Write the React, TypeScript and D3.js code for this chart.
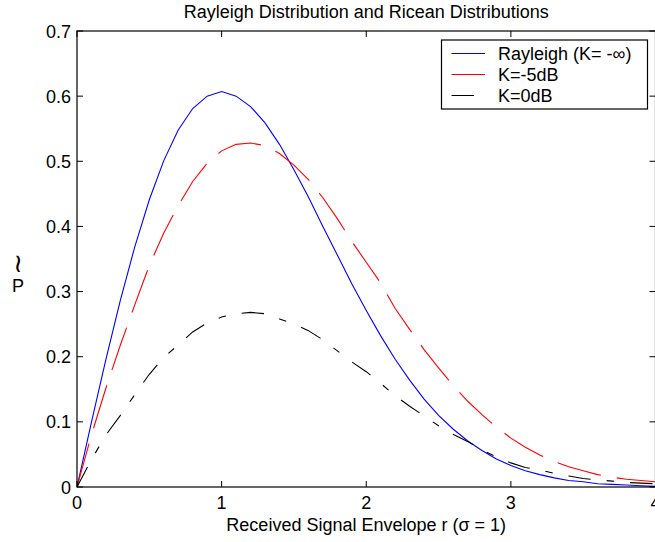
import React from "react";
import * as d3 from "d3";

const rValues = [0, 0.1, 0.2, 0.3, 0.4, 0.5, 0.6, 0.7, 0.8, 0.9, 1.0, 1.1, 1.2, 1.3, 1.4, 1.5, 1.6, 1.7, 1.8, 1.9, 2.0,
  2.1, 2.2, 2.3, 2.4, 2.5, 2.6, 2.7, 2.8, 2.9, 3.0, 3.1, 3.2, 3.3, 3.4, 3.5, 3.6, 3.7, 3.8, 3.9, 4.0];

const rayleigh = [0, 0.0995, 0.196, 0.287, 0.369, 0.441, 0.501, 0.548, 0.581, 0.6, 0.607, 0.6, 0.584, 0.559, 0.526,
  0.487, 0.445, 0.4, 0.356, 0.312, 0.271, 0.232, 0.196, 0.164, 0.135, 0.11, 0.089, 0.071, 0.056, 0.043, 0.033,
  0.025, 0.019, 0.014, 0.01, 0.008, 0.005, 0.004, 0.003, 0.002, 0.001];

const kMinus5dB = [0, 0.08, 0.152, 0.218, 0.28, 0.34, 0.39, 0.432, 0.469, 0.497, 0.516, 0.526, 0.528, 0.524, 0.512,
  0.494, 0.472, 0.444, 0.412, 0.377, 0.345, 0.313, 0.274, 0.242, 0.211, 0.183, 0.156, 0.132, 0.111, 0.092, 0.075,
  0.061, 0.049, 0.039, 0.031, 0.025, 0.019, 0.015, 0.012, 0.01, 0.008];

const k0dB = [0, 0.042, 0.08, 0.11, 0.142, 0.173, 0.199, 0.218, 0.238, 0.252, 0.261, 0.266, 0.268, 0.266, 0.258,
  0.25, 0.24, 0.226, 0.209, 0.192, 0.177, 0.159, 0.14, 0.124, 0.109, 0.094, 0.081, 0.07, 0.057, 0.046, 0.037,
  0.03, 0.026, 0.021, 0.017, 0.013, 0.011, 0.009, 0.007, 0.006, 0.005];

const xTicks = [0, 1, 2, 3, 4];
const yTicks = [0, 0.1, 0.2, 0.3, 0.4, 0.5, 0.6, 0.7];

const seriesNames = ["Rayleigh (K= -\u221E)", "K=-5dB", "K=0dB"];
const titleText = "Rayleigh Distribution and Ricean Distributions";
const xLabelText = "Received Signal Envelope r (\u03C3 = 1)";

const W = 655;
const H = 542;
const left = 77;
const right = 655.5;
const top = 31;
const bottom = 487;
const FONT = "'Liberation Sans', Arial, sans-serif";
const FS = 18;

export default function App() {
  const x = d3.scaleLinear().domain([0, 4]).range([left, right]);
  const y = d3.scaleLinear().domain([0, 0.7]).range([bottom, top]);
  const line = d3.line<number>().x((_, i) => x(rValues[i])).y((d) => y(d));

  const series = [
    { data: rayleigh, color: "#0000ff", dash: undefined as string | undefined },
    { data: kMinus5dB, color: "#ff0000", dash: "45 16" },
    { data: k0dB, color: "#000000", dash: "22.5 16 7.5 16" },
  ];

  const tl = 6;
  const legX = 441.5, legY = 40, legW = 206, legH = 69;
  const rowY = [53.5, 74.5, 95.5];

  return (
    <svg width={W} height={H} style={{ position: "absolute", left: 0, top: 0, background: "#fff" }}
      fontFamily={FONT}>
      <rect x={0} y={0} width={W} height={H} fill="#fff" />
      <defs>
        <clipPath id="plotclip">
          <rect x={left} y={top} width={right - left} height={bottom - top} />
        </clipPath>
      </defs>
      <g clipPath="url(#plotclip)">
        {series.map((s, i) => (
          <path key={i} d={line(s.data) || ""} fill="none" stroke={s.color} strokeWidth={1.1}
            strokeDasharray={s.dash} />
        ))}
      </g>
      <rect x={left} y={top} width={right - left} height={bottom - top} fill="none" stroke="#000" strokeWidth={1.2} />
      {xTicks.map((t) => (
        <g key={"xt" + t}>
          <line x1={x(t)} x2={x(t)} y1={bottom} y2={bottom - tl} stroke="#000" strokeWidth={1} />
          <line x1={x(t)} x2={x(t)} y1={top} y2={top + tl} stroke="#000" strokeWidth={1} />
          <text x={x(t)} y={bottom + 22} textAnchor="middle" fontSize={FS} fill="#000">{t}</text>
        </g>
      ))}
      {yTicks.map((t) => (
        <g key={"yt" + t}>
          <line x1={left} x2={left + tl} y1={y(t)} y2={y(t)} stroke="#000" strokeWidth={1} />
          <line x1={right} x2={right - tl} y1={y(t)} y2={y(t)} stroke="#000" strokeWidth={1} />
          <text x={left - 6} y={y(t) + 6.5} textAnchor="end" fontSize={FS} fill="#000">{t === 0 ? "0" : t.toFixed(1)}</text>
        </g>
      ))}
      <text x={(left + right) / 2} y={18} textAnchor="middle" fontSize={FS} fill="#000">{titleText}</text>
      <text x={(left + right) / 2} y={531} textAnchor="middle" fontSize={FS} fill="#000">{xLabelText}</text>
      <text x={18} y={292} textAnchor="middle" fontSize={FS} fill="#000">P</text>
      <text x={18} y={272} textAnchor="middle" fontSize={26} fontFamily="'DejaVu Sans', sans-serif" fill="#000">{"\u2240"}</text>
      <rect x={legX} y={legY} width={legW} height={legH} fill="#fff" stroke="#000" strokeWidth={1.2} />
      {series.map((s, i) => (
        <g key={"lg" + i}>
          <line x1={451.5} x2={485} y1={rowY[i]} y2={rowY[i]} stroke={s.color} strokeWidth={1}
            strokeDasharray={s.dash} />
          <text x={498} y={rowY[i] + 6.5} fontSize={FS} fill="#000">{seriesNames[i]}</text>
        </g>
      ))}
    </svg>
  );
}
